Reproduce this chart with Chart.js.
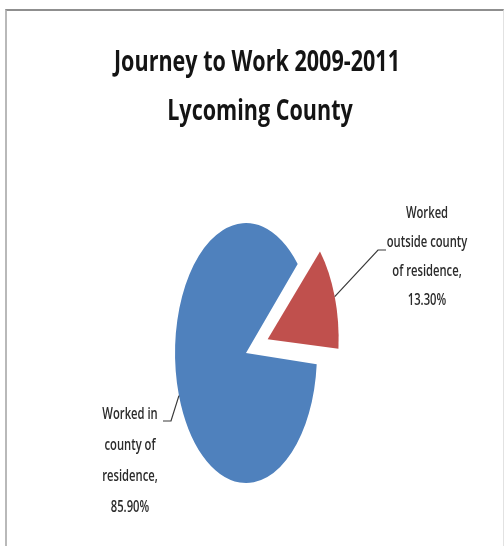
<!DOCTYPE html>
<html>
<head>
<meta charset="utf-8">
<script src="https://cdn.jsdelivr.net/npm/chart.js@4"></script>
<style>
  html, body { margin: 0; padding: 0; background: #fff; }
  #wrap { position: relative; width: 504px; height: 546px; overflow: hidden; }
  #grafico { position: absolute; left: 0; top: 0; }
  #frame {
    position: absolute; left: 5px; top: 9px; width: 496px; height: 560px;
    border-top: 2px solid #8f8f8f; border-left: 2px solid #b9b9b9; border-right: 1px solid #e2e2e2;
    pointer-events: none;
  }
</style>
</head>
<body>
<div id="wrap">
  <canvas id="grafico" width="504" height="546"></canvas>
  <div id="frame"></div>
</div>
<script>
const titleLines = ['Journey to Work 2009-2011', 'Lycoming County'];
const categories = ['Worked in county of residence', 'Worked outside county of residence'];
const shares = [85.9, 13.3];
// how each category name wraps in its label
const labelLines = [
    ['Worked in', 'county of', 'residence,'],
    ['Worked', 'outside county', 'of residence,']
];

const SQUISH = 0.546;   // pie is drawn as a tall ellipse
const TEXT_FONT = '"Open Sans", "DejaVu Sans", sans-serif';

// where each label block sits and how its leader line bends
const labelBoxes = [
    { x: 130, y: 419, lineHeight: 31, bend: [[171, 421], [163, 421]] },
    { x: 427, y: 218, lineHeight: 29, bend: [[378, 250], [386, 250]] }
];

function arcOffset(arc) {
    // v4 ArcElement moves by offset/4 and grows by offset/4 * (1 - sin(circumference))
    const off = (arc.options.offset || 0) / 4;
    const fix = 1 - Math.sin(Math.min(Math.PI, arc.circumference || 0));
    return { off, grow: off * fix };
}

function condensedText(ctx, text, x, y, sx) {
    ctx.save();
    ctx.translate(x, y);
    ctx.scale(sx, 1);
    ctx.fillText(text, 0, 0);
    ctx.restore();
}

const squishPie = {
    id: 'squishPie',
    afterDatasetsUpdate(chart) {
        // keep the exploded slice on the same radius as the rest
        chart.getDatasetMeta(0).data.forEach(arc => {
            arc.outerRadius -= arcOffset(arc).grow;
        });
    },
    beforeDatasetsDraw(chart) {
        const ctx = chart.ctx;
        const cx = chart.getDatasetMeta(0).data[0].x;
        ctx.save();
        ctx.translate(cx, 0);
        ctx.scale(SQUISH, 1);
        ctx.translate(-cx, 0);
    },
    afterDatasetsDraw(chart) {
        chart.ctx.restore();
    }
};

const pieText = {
    id: 'pieText',
    afterDraw(chart) {
        const ctx = chart.ctx;
        const arcs = chart.getDatasetMeta(0).data;
        const cx = arcs[0].x;

        // title
        ctx.save();
        ctx.fillStyle = '#141414';
        ctx.textAlign = 'center';
        ctx.textBaseline = 'alphabetic';
        ctx.font = 'bold 28px ' + TEXT_FONT;
        condensedText(ctx, titleLines[0], 257, 71, 0.77);
        condensedText(ctx, titleLines[1], 260, 120, 0.77);
        ctx.restore();

        // data labels with leader lines
        arcs.forEach((arc, i) => {
            const box = labelBoxes[i];
            const { off, grow } = arcOffset(arc);
            const mid = (arc.startAngle + arc.endAngle) / 2;
            const r = arc.outerRadius + grow + off;
            const ax = cx + (arc.x + Math.cos(mid) * r - cx) * SQUISH;
            const ay = arc.y + Math.sin(mid) * r;

            ctx.save();
            ctx.strokeStyle = '#3a3a3a';
            ctx.lineWidth = 1.2;
            ctx.beginPath();
            ctx.moveTo(ax, ay);
            box.bend.forEach(p => ctx.lineTo(p[0], p[1]));
            ctx.stroke();

            ctx.fillStyle = '#2b2b2b';
            ctx.textAlign = 'center';
            ctx.font = '600 17px ' + TEXT_FONT;
            const lines = labelLines[i].concat(shares[i].toFixed(2) + '%');
            lines.forEach((t, k) => {
                condensedText(ctx, t, box.x, box.y + k * box.lineHeight, 0.66);
            });
            ctx.restore();
        });
    }
};

const ctxPie = document.getElementById('grafico').getContext('2d');

new Chart(ctxPie, {
    type: 'pie',
    data: {
        labels: categories,
        datasets: [{
            data: shares,
            backgroundColor: ['#4F81BD', '#C0504D'],
            borderWidth: 0,
            offset: [0, 168],
            radius: 130
        }]
    },
    options: {
        responsive: false,
        animation: false,
        rotation: 95,
        layout: { padding: { left: 0, right: 12, top: 180, bottom: 20 } },
        plugins: {
            legend: { display: false },
            title: { display: false },
            tooltip: { enabled: false }
        }
    },
    plugins: [squishPie, pieText]
});
</script>
</body>
</html>
